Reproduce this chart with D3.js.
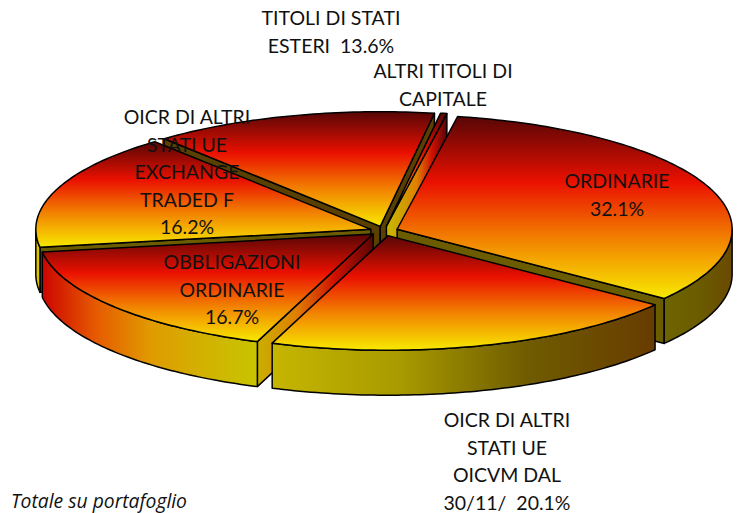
<!DOCTYPE html>
<html lang="it">
  <head>
    <meta charset="UTF-8" />
    <title>Totale su portafoglio</title>
    <style>
      html, body { margin: 0; padding: 0; background: #fff; }
      svg { display: block; }
      text { font-family: Lato, "Open Sans", sans-serif; fill: #111; white-space: pre; }
    </style>
  </head>
  <body>
    <div id="chart"></div>
    <script src="https://cdn.jsdelivr.net/npm/d3@7"></script>
    <script>
      // data (last slice has no printed value, estimated)
      var categories = ["ORDINARIE", "OICVM", "OBBLIGAZIONI ORDINARIE", "EXCHANGE TRADED", "TITOLI DI STATI ESTERI", "ALTRI TITOLI DI CAPITALE"];
      var values = [32.1, 20.1, 16.7, 16.2, 13.6, 0.3];
      var labelLines = [
        ["ORDINARIE", "32.1%"],
        ["OICR DI ALTRI", "STATI UE", "OICVM DAL", "30/11/  20.1%"],
        ["OBBLIGAZIONI", "ORDINARIE", "16.7%"],
        ["OICR DI ALTRI", "STATI UE", "EXCHANGE", "TRADED F", "16.2%"],
        ["TITOLI DI STATI", "ESTERI  13.6%"],
        ["ALTRI TITOLI DI", "CAPITALE"]
      ];
      var footnote = "Totale su portafoglio";

      // layout
      var width = 737;
      var height = 513;
      var cx = 384, cy = 231, rx = 335, ry = 114.6;
      var depth = 45;
      var explode = 0.042;
      var startDeg = 10.4;
      var drawOrder = [4, 5, 3, 0, 2, 1];
      var labelX = [617, 507, 232, 187, 331, 443];
      var labelTop = [188, 427, 269, 124, 25, 78];
      var lineStep = 27.6;

      // wall gradients, left to right
      var outerColors = [
        ["#6d6400", "#6b5c00", "#6a4a00"],
        ["#c6b600", "#a89a00", "#6f5c00", "#683c00"],
        ["#cc0500", "#e65a00", "#e09a00", "#d2b200", "#c8c400"],
        ["#e2c800", "#d8c000"],
        ["#888", "#888"],
        ["#888", "#888"]
      ];
      var wallColors = [
        ["#6b5c00", "#6b5c00"],
        ["#c6b600", "#c6b600"],
        ["#c8b000", "#e08000", "#d01000", "#5a0505"],
        ["#6b5c00", "#6b5c00"],
        ["#5a4000", "#5a4000"],
        ["#c8b800", "#d0a000", "#e08000", "#d01000", "#5a0505"]
      ];
      var topStops = [
        [0, "#570606"], [0.36, "#ea1000"], [0.68, "#f28400"], [1, "#f7e900"]
      ];

      var svg = d3.select("#chart").append("svg")
        .attr("width", width)
        .attr("height", height);
      var defs = svg.append("defs");

      var xScale = d3.scaleLinear().domain([-1, 1]).range([cx - rx, cx + rx]);
      var yScale = d3.scaleLinear().domain([-1, 1]).range([cy - ry, cy + ry]);

      var rad = function(d) { return d * Math.PI / 180; };
      var pie = d3.pie().sort(null).value(function(d) { return d; })
        .startAngle(rad(startDeg)).endAngle(rad(startDeg + 360));
      var slices = pie(values);

      var line = d3.line();

      function project(s, a, r, down) {
        var mid = (s.startAngle + s.endAngle) / 2;
        return [
          xScale(r * Math.sin(a) + explode * Math.sin(mid)),
          yScale(-r * Math.cos(a) - explode * Math.cos(mid)) + (down || 0)
        ];
      }

      function arcPoints(s, a0, a1, down) {
        var n = Math.max(2, Math.ceil((a1 - a0) / rad(1)));
        return d3.range(n + 1).map(function(i) {
          return project(s, a0 + (a1 - a0) * i / n, 1, down);
        });
      }

      function addGradient(id, colors) {
        var g = defs.append("linearGradient").attr("id", id)
          .attr("x1", 0).attr("y1", 0).attr("x2", 1).attr("y2", 0);
        colors.forEach(function(c, i) {
          g.append("stop").attr("offset", i / (colors.length - 1)).attr("stop-color", c);
        });
      }

      var topGrad = defs.append("linearGradient").attr("id", "topGrad")
        .attr("x1", 0).attr("y1", 0).attr("x2", 0).attr("y2", 1);
      topStops.forEach(function(d) {
        topGrad.append("stop").attr("offset", d[0]).attr("stop-color", d[1]);
      });

      function radialWall(g, s, a, fill) {
        var apex = project(s, 0, 0);
        var rim = project(s, a, 1);
        var pts = [apex, rim, [rim[0], rim[1] + depth], [apex[0], apex[1] + depth]];
        g.append("path").attr("d", line(pts) + "Z").attr("fill", fill);
      }

      var sliceG = svg.selectAll("g.slice")
        .data(drawOrder)
        .enter()
        .append("g")
        .attr("class", "slice")
        .attr("stroke", "#000")
        .attr("stroke-width", 1.5)
        .attr("stroke-linejoin", "round");

      sliceG.each(function(idx) {
        var s = slices[idx];
        var g = d3.select(this);
        addGradient("outer" + idx, outerColors[idx]);
        addGradient("wall" + idx, wallColors[idx]);

        // only the cut face turned to the viewer gets drawn
        if (Math.sin(s.startAngle) < 0) radialWall(g, s, s.startAngle, "url(#wall" + idx + ")");
        if (Math.sin(s.endAngle) > 0) radialWall(g, s, s.endAngle, "url(#wall" + idx + ")");

        // outer wall only on the front half of the rim
        var a0 = Math.max(s.startAngle, rad(90));
        var a1 = Math.min(s.endAngle, rad(270));
        if (a1 > a0) {
          var upper = arcPoints(s, a0, a1, 0);
          var lower = arcPoints(s, a0, a1, depth).reverse();
          g.append("path")
            .attr("d", line(upper.concat(lower)) + "Z")
            .attr("fill", "url(#outer" + idx + ")");
        }

        var topPts = [project(s, 0, 0)].concat(arcPoints(s, s.startAngle, s.endAngle, 0));
        g.append("path")
          .attr("d", line(topPts) + "Z")
          .attr("fill", "url(#topGrad)");
      });

      var labels = svg.selectAll("g.label")
        .data(labelLines)
        .enter()
        .append("g")
        .attr("class", "label");

      labels.each(function(lines, i) {
        d3.select(this).selectAll("text")
          .data(lines)
          .enter()
          .append("text")
          .attr("x", labelX[i])
          .attr("y", function(d, j) { return labelTop[i] + j * lineStep; })
          .attr("text-anchor", "middle")
          .attr("font-size", "19.5px")
          .text(function(d) { return d; });
      });

      svg.append("text")
        .attr("x", 11)
        .attr("y", 508)
        .attr("font-size", "19.3px")
        .attr("font-style", "italic")
        .style("font-family", "'Open Sans', sans-serif")
        .text(footnote);
    </script>
  </body>
</html>
